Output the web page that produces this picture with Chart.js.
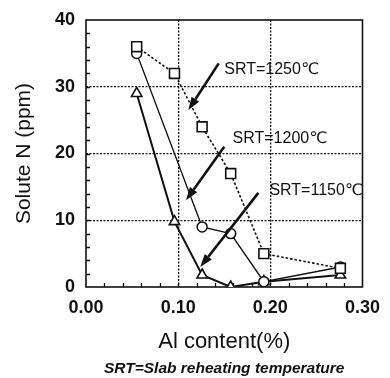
<!DOCTYPE html>
<html>
<head>
<meta charset="utf-8">
<script src="https://cdn.jsdelivr.net/npm/chart.js@4"></script>
<style>
  html, body { margin: 0; padding: 0; background: #fff; }
  #wrap { width: 390px; height: 378px; }
</style>
</head>
<body>
<div id="wrap"><canvas id="chart" width="390" height="378"></canvas></div>
<script>
// Al content (%) of the samples
const alContent = [0.055, 0.096, 0.126, 0.157, 0.193, 0.276];

// Solute N (ppm) for each slab reheating temperature
const srt1250 = [36, 32, 24, 17, 5, 2.8];
const srt1200 = [35, null, 9, 8, 0.8, 3];
const srt1150 = [29, 9.8, 1.8, 0, 0.8, 1.8];

const xTicks = [0, 0.1, 0.2, 0.3];
const yTicks = [0, 10, 20, 30, 40];

// arrow annotations, in data units: [x, y] of tail, [x, y] of head, text anchor
const arrowLabels = ['SRT=1250\u2103', 'SRT=1200\u2103', 'SRT=1150\u2103'];
const arrowTails = [[0.144, 33.5], [0.150, 21.0], [0.187, 14.1]];
const arrowHeads = [[0.111, 26.5], [0.1085, 13.0], [0.124, 3.0]];
const labelAnchors = [[0.150, 32.5], [0.159, 22.3], [0.199, 14.5]];

const footnote = 'SRT=Slab reheating temperature';

const FONT = "'Liberation Sans', Arial, 'DejaVu Sans', sans-serif";
const INK = '#111';

function toPoints(ys) {
	return alContent.map((x, i) => ({ x: x, y: ys[i] }));
}

// frame, inward minor ticks, arrows, their labels and the footnote
const decor = {
	id: 'decor',
	beforeDatasetsDraw(chart) {
		const { ctx, chartArea: a, scales: { x, y } } = chart;
		ctx.save();
		ctx.strokeStyle = INK;
		ctx.lineWidth = 1.6;
		ctx.strokeRect(a.left, a.top, a.right - a.left, a.bottom - a.top);
		ctx.lineWidth = 1.3;
		ctx.beginPath();
		for (let v = 0.02; v < 0.3; v += 0.02) {
			const px = Math.round(x.getPixelForValue(v)) + 0.5;
			ctx.moveTo(px, a.bottom);
			ctx.lineTo(px, a.bottom - 4);
		}
		for (let v = 2; v < 40; v += 2) {
			const py = Math.round(y.getPixelForValue(v)) + 0.5;
			ctx.moveTo(a.left, py);
			ctx.lineTo(a.left + 4, py);
		}
		ctx.stroke();
		ctx.restore();
	},
	afterDatasetsDraw(chart) {
		const { ctx, chartArea: a, scales: { x, y } } = chart;
		ctx.save();
		ctx.strokeStyle = INK;
		ctx.fillStyle = INK;
		ctx.lineWidth = 2.6;
		arrowLabels.forEach((txt, i) => {
			const x0 = x.getPixelForValue(arrowTails[i][0]);
			const y0 = y.getPixelForValue(arrowTails[i][1]);
			const x1 = x.getPixelForValue(arrowHeads[i][0]);
			const y1 = y.getPixelForValue(arrowHeads[i][1]);
			const ang = Math.atan2(y1 - y0, x1 - x0);
			const hl = 13, hw = 4.5;
			const bx = x1 - hl * Math.cos(ang), by = y1 - hl * Math.sin(ang);
			ctx.beginPath();
			ctx.moveTo(x0, y0);
			ctx.lineTo(bx, by);
			ctx.stroke();
			ctx.beginPath();
			ctx.moveTo(x1, y1);
			ctx.lineTo(bx + hw * Math.sin(ang), by - hw * Math.cos(ang));
			ctx.lineTo(bx - hw * Math.sin(ang), by + hw * Math.cos(ang));
			ctx.closePath();
			ctx.fill();

			ctx.font = '16px ' + FONT;
			ctx.textAlign = 'left';
			ctx.textBaseline = 'middle';
			ctx.fillText(txt, x.getPixelForValue(labelAnchors[i][0]), y.getPixelForValue(labelAnchors[i][1]));
		});

		// footnote under the axis title, centred on the plot
		ctx.font = 'italic bold 15.5px ' + FONT;
		ctx.textAlign = 'center';
		ctx.textBaseline = 'middle';
		ctx.fillText(footnote, (a.left + a.right) / 2, chart.height - 9);
		ctx.restore();
	}
};

const gridColor = (c) => (c.tick && c.index > 0 && c.index < c.scale.ticks.length - 1) ? INK : 'rgba(0,0,0,0)';

new Chart(document.getElementById('chart'), {
	type: 'scatter',
	data: {
		datasets: [{
			label: 'SRT=1250\u2103',
			data: toPoints(srt1250),
			showLine: true,
			borderColor: INK,
			borderWidth: 1.6,
			borderDash: [2.5, 2],
			pointStyle: 'rect',
			pointRadius: 7,
			pointBorderWidth: 1.6,
			pointBackgroundColor: '#fff',
			pointBorderColor: INK
		}, {
			label: 'SRT=1200\u2103',
			data: toPoints(srt1200),
			showLine: true,
			spanGaps: true,
			borderColor: INK,
			borderWidth: 1.4,
			pointStyle: 'circle',
			pointRadius: 5,
			pointBorderWidth: 1.5,
			pointBackgroundColor: '#fff',
			pointBorderColor: INK
		}, {
			label: 'SRT=1150\u2103',
			data: toPoints(srt1150),
			showLine: true,
			borderColor: INK,
			borderWidth: 2,
			pointStyle: 'triangle',
			pointRadius: 6,
			pointBorderWidth: 1.6,
			pointBackgroundColor: '#fff',
			pointBorderColor: INK
		}]
	},
	options: {
		responsive: false,
		animation: false,
		layout: { padding: { top: 20, right: 23, left: 0, bottom: 0 } },
		plugins: {
			legend: { display: false },
			tooltip: { enabled: false }
		},
		scales: {
			x: {
				type: 'linear',
				min: 0,
				max: 0.3,
				afterBuildTicks: (s) => { s.ticks = xTicks.map(v => ({ value: v })); },
				afterFit: (s) => { s.height = 91; },
				ticks: {
					color: INK,
					padding: 10,
					font: { family: FONT, size: 18, weight: 'bold' },
					callback: (v) => v.toFixed(2)
				},
				grid: { color: gridColor, lineWidth: 1.3, drawTicks: false },
				border: { display: false, dash: [2, 1.5] },
				title: {
					display: true,
					text: 'Al content(%)',
					color: INK,
					font: { family: FONT, size: 22 },
					padding: { top: 0, bottom: 23 }
				}
			},
			y: {
				type: 'linear',
				min: 0,
				max: 40,
				afterBuildTicks: (s) => { s.ticks = yTicks.map(v => ({ value: v })); },
				afterFit: (s) => { s.width = 86; s.paddingTop = 0; s.paddingBottom = 0; },
				ticks: {
					color: INK,
					padding: 11,
					font: { family: FONT, size: 18, weight: 'bold' }
				},
				grid: { color: gridColor, lineWidth: 1.3, drawTicks: false },
				border: { display: false, dash: [2, 1.5] },
				title: {
					display: true,
					text: 'Solute N (ppm)',
					color: INK,
					font: { family: FONT, size: 21 },
					padding: { top: 12, bottom: 0 }
				}
			}
		}
	},
	plugins: [decor]
});
</script>
</body>
</html>
